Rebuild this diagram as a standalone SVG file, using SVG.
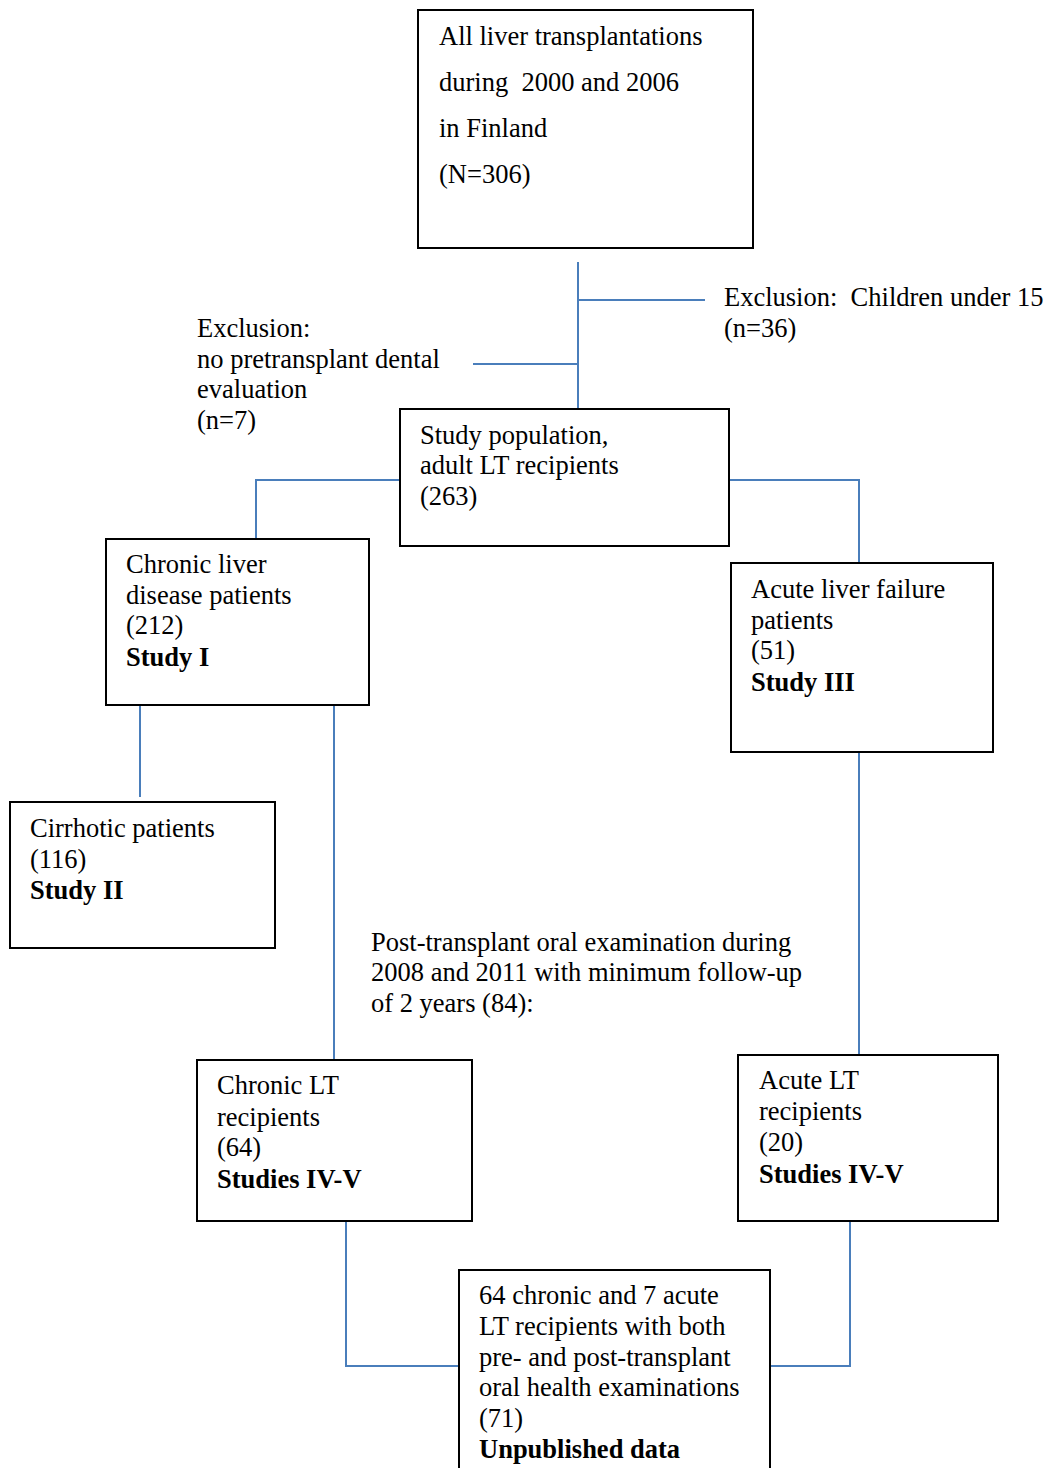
<svg xmlns="http://www.w3.org/2000/svg" width="1047" height="1468" viewBox="0 0 1047 1468">
<style>
.box{fill:#fff;stroke:#000;stroke-width:2}
.ln{fill:none;stroke:#4a7ebb;stroke-width:2}
text{font-family:"Liberation Serif","Times New Roman",serif;font-size:26.5px;fill:#000}
.b{font-weight:bold}
</style>
<rect width="1047" height="1468" fill="#fff"/>
<g id="connectors">
<path class="ln" d="M578 262V408M578 300H705M473 364H578"/>
<path class="ln" d="M400 480H256V538M729 480H859V563"/>
<path class="ln" d="M140 705V797M334 705V1060M859 752V1055"/>
<path class="ln" d="M346 1221V1366H459M850 1221V1366H770"/>
</g>
<g id="n1"><rect class="box" x="418" y="10" width="335" height="238"/>
<text x="439" y="45">All liver transplantations</text>
<text x="439" y="91" xml:space="preserve">during  2000 and 2006</text>
<text x="439" y="137">in Finland</text>
<text x="439" y="183">(N=306)</text></g>
<g id="ex1"><text x="724" y="306" xml:space="preserve">Exclusion:  Children under 15</text>
<text x="724" y="337">(n=36)</text></g>
<g id="ex2"><text x="197" y="337">Exclusion:</text>
<text x="197" y="368">no pretransplant dental</text>
<text x="197" y="398">evaluation</text>
<text x="197" y="429">(n=7)</text></g>
<g id="n2"><rect class="box" x="400" y="409" width="329" height="137"/>
<text x="420" y="444">Study population,</text>
<text x="420" y="474">adult LT recipients</text>
<text x="420" y="505">(263)</text></g>
<g id="n3"><rect class="box" x="106" y="539" width="263" height="166"/>
<text x="126" y="573">Chronic liver</text>
<text x="126" y="604">disease patients</text>
<text x="126" y="634">(212)</text>
<text class="b" x="126" y="666">Study I</text></g>
<g id="n4"><rect class="box" x="731" y="563" width="262" height="189"/>
<text x="751" y="598">Acute liver failure</text>
<text x="751" y="629">patients</text>
<text x="751" y="659">(51)</text>
<text class="b" x="751" y="691">Study III</text></g>
<g id="n5"><rect class="box" x="10" y="802" width="265" height="146"/>
<text x="30" y="837">Cirrhotic patients</text>
<text x="30" y="868">(116)</text>
<text class="b" x="30" y="899">Study II</text></g>
<g id="note"><text x="371" y="951">Post-transplant oral examination during</text>
<text x="371" y="981">2008 and 2011 with minimum follow-up</text>
<text x="371" y="1012">of 2 years (84):</text></g>
<g id="n6"><rect class="box" x="197" y="1060" width="275" height="161"/>
<text x="217" y="1094">Chronic LT</text>
<text x="217" y="1126">recipients</text>
<text x="217" y="1156">(64)</text>
<text class="b" x="217" y="1188">Studies IV-V</text></g>
<g id="n7"><rect class="box" x="738" y="1055" width="260" height="166"/>
<text x="759" y="1089">Acute LT</text>
<text x="759" y="1120">recipients</text>
<text x="759" y="1151">(20)</text>
<text class="b" x="759" y="1183">Studies IV-V</text></g>
<g id="n8"><rect class="box" x="459" y="1270" width="311" height="220"/>
<text x="479" y="1304">64 chronic and 7 acute</text>
<text x="479" y="1335">LT recipients with both</text>
<text x="479" y="1366">pre- and post-transplant</text>
<text x="479" y="1396">oral health examinations</text>
<text x="479" y="1427">(71)</text>
<text class="b" x="479" y="1458">Unpublished data</text></g>
</svg>
